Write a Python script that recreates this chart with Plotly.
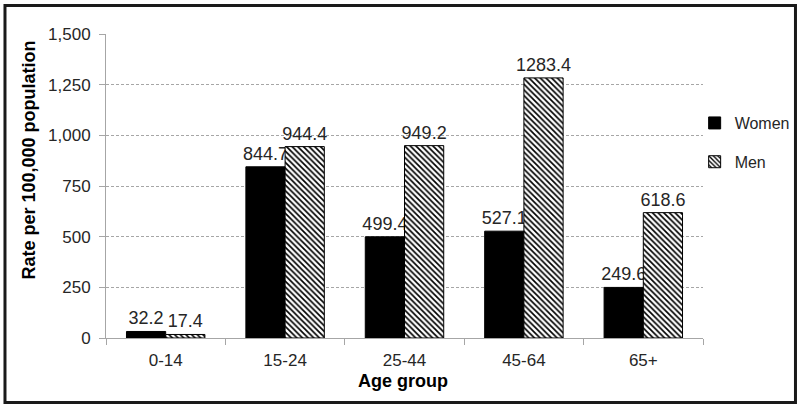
import plotly.graph_objects as go

categories = ["0-14", "15-24", "25-44", "45-64", "65+"]
women = [32.2, 844.7, 499.4, 527.1, 249.6]
men = [17.4, 944.4, 949.2, 1283.4, 618.6]
y_ticks = [0, 250, 500, 750, 1000, 1250, 1500]

FONT = "Liberation Sans, Arial, sans-serif"
TXT = "#262626"
GRID = "#a6a6a6"

fig = go.Figure()
fig.add_trace(go.Bar(
    x=categories, y=women, name="Women", legendgroup="w",
    marker=dict(color="black", line=dict(color="black", width=1)),
    text=[f"{v:.1f}" for v in women], textposition="outside",
    constraintext="none",
    textfont=dict(family=FONT, size=18, color=TXT), cliponaxis=False,
))
fig.add_trace(go.Bar(
    x=categories, y=men, name="Men", legendgroup="m",
    marker=dict(color="white", line=dict(color="black", width=1),
                pattern=dict(shape="\\", size=4, solidity=0.42,
                             fgcolor="black", bgcolor="white", fillmode="replace")),
    text=[f"{v:.1f}" for v in men], textposition="outside",
    constraintext="none",
    textfont=dict(family=FONT, size=18, color=TXT), cliponaxis=False,
))

fig.update_layout(
    width=800, height=407, autosize=False,
    margin=dict(l=106, r=97, t=34, b=69, autoexpand=False),
    paper_bgcolor="white", plot_bgcolor="white",
    barmode="group", bargap=0.343, bargroupgap=0,
    font=dict(family=FONT, color=TXT),
    showlegend=True,
    legend=dict(x=0.986, xanchor="left", y=0.643, yanchor="middle",
                traceorder="grouped", tracegroupgap=15,
                font=dict(family=FONT, size=16, color=TXT),
                bgcolor="rgba(0,0,0,0)", itemwidth=30),
    xaxis=dict(
        type="category", tickson="boundaries", ticks="outside", ticklen=6,
        tickcolor=GRID, showline=True, linecolor=GRID, linewidth=1,
        showgrid=False, automargin=False, ticklabelstandoff=7,
        tickfont=dict(family=FONT, size=17, color=TXT),
    ),
    yaxis=dict(
        range=[0, 1500], tickvals=y_ticks, tickformat=",",
        ticks="outside", ticklen=6, tickcolor=GRID,
        showline=True, linecolor=GRID, linewidth=1,
        showgrid=True, gridcolor=GRID, griddash="3px,2px", gridwidth=1,
        zeroline=False, automargin=False, ticklabelstandoff=5,
        tickfont=dict(family=FONT, size=17, color=TXT),
    ),
    annotations=[
        dict(text="<b>Rate per 100,000 population</b>", textangle=-90,
             xref="paper", yref="paper", x=(28 - 106) / 597, y=(337.5 - 160) / 304,
             xanchor="center", yanchor="middle", showarrow=False,
             font=dict(family=FONT, size=18, color="black")),
        dict(text="<b>Age group</b>",
             xref="paper", yref="paper", x=(403 - 106) / 597, y=(337.5 - 380) / 304,
             xanchor="center", yanchor="middle", showarrow=False,
             font=dict(family=FONT, size=18, color="black")),
    ],
    shapes=[dict(type="rect", xref="paper", yref="paper",
                 x0=-0.1692, x1=1.1549, y0=-0.2122, y1=1.0938,
                 line=dict(color="#1a1a1a", width=3), fillcolor="rgba(0,0,0,0)",
                 layer="above")],
)

fig.write_html("out.html", config={"displayModeBar": False},
               post_script="document.body.style.margin='0';document.body.style.padding='0';")
